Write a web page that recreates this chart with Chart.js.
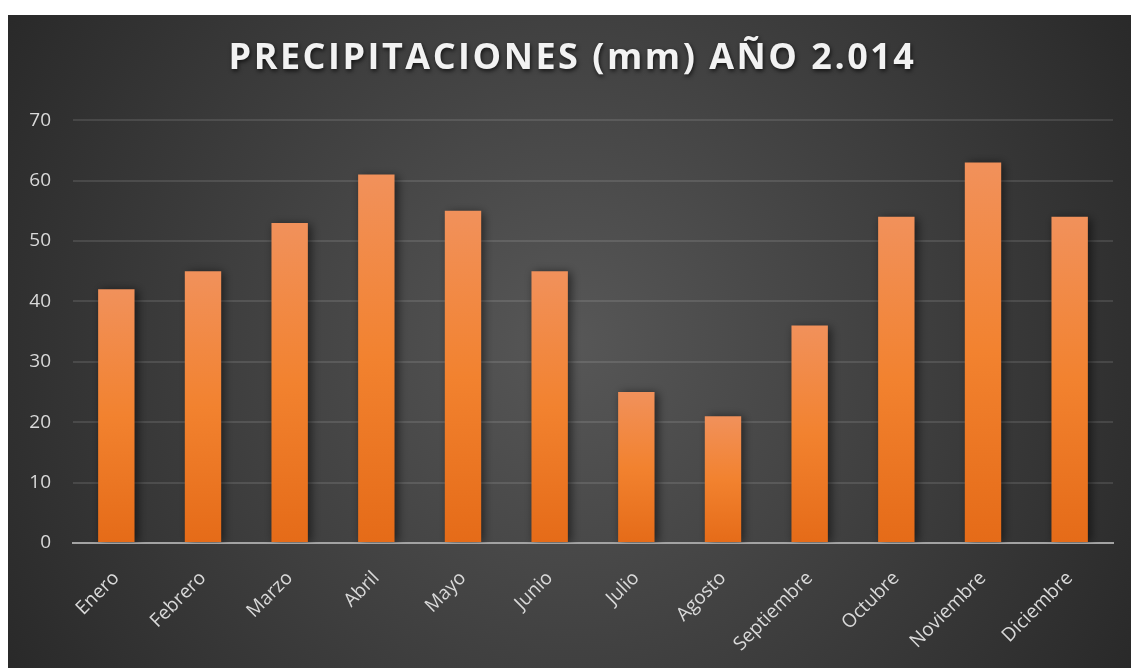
<!DOCTYPE html>
<html>
<head>
<meta charset="utf-8">
<script src="https://cdn.jsdelivr.net/npm/chart.js@4.4.1/dist/chart.umd.min.js"></script>
<style>
    body { margin: 0; background: #ffffff; }
    #wrap { position: absolute; left: 8px; top: 15px; width: 1123px; height: 653px; }
</style>
</head>
<body>
<div id="wrap"><canvas id="rainChart"></canvas></div>
<script>
const months = ['Enero', 'Febrero', 'Marzo', 'Abril', 'Mayo', 'Junio', 'Julio', 'Agosto', 'Septiembre', 'Octubre', 'Noviembre', 'Diciembre'];
const rainfall = [42, 45, 53, 61, 55, 45, 25, 21, 36, 54, 63, 54];
const yTicks = [0, 10, 20, 30, 40, 50, 60, 70];
const chartTitle = 'PRECIPITACIONES (mm) AÑO 2.014';

// dark radial background like the excel theme
const bgPlugin = {
    id: 'bg',
    beforeDraw(chart) {
        const ctx = chart.ctx;
        const w = chart.width, h = chart.height;
        const g = ctx.createRadialGradient(w * 0.5, h * 0.5, 0, w * 0.5, h * 0.5, w * 0.62);
        g.addColorStop(0, '#575757');
        g.addColorStop(1, '#262626');
        ctx.save();
        ctx.fillStyle = g;
        ctx.fillRect(0, 0, w, h);
        ctx.restore();
    }
};

// soft shadow behind the bars
const shadowPlugin = {
    id: 'barShadow',
    beforeDatasetsDraw(chart) {
        const ctx = chart.ctx;
        ctx.save();
        ctx.shadowColor = 'rgba(0,0,0,0.55)';
        ctx.shadowBlur = 9;
        ctx.shadowOffsetX = 3;
        ctx.shadowOffsetY = 1;
    },
    afterDatasetsDraw(chart) {
        chart.ctx.restore();
    }
};

// shadow + letter spacing on the title text
const titleShadow = {
    id: 'titleShadow',
    afterLayout(chart) {
        const tb = chart.titleBlock;
        if (!tb || tb._wrapped) return;
        const orig = tb.draw.bind(tb);
        tb.draw = function () {
            const ctx = chart.ctx;
            ctx.save();
            ctx.translate(12, 0);
            ctx.letterSpacing = '2.5px';
            ctx.shadowColor = 'rgba(0,0,0,0.7)';
            ctx.shadowBlur = 4;
            ctx.shadowOffsetX = 1;
            ctx.shadowOffsetY = 2;
            orig();
            ctx.restore();
        };
        tb._wrapped = true;
    }
};

function barFill(context) {
    const chart = context.chart;
    if (!chart.chartArea) return '#ee7a30';
    const y = chart.scales.y;
    const top = y.getPixelForValue(rainfall[context.dataIndex]);
    const bottom = y.getPixelForValue(0);
    const g = chart.ctx.createLinearGradient(0, top, 0, bottom);
    g.addColorStop(0, '#f1915b');
    g.addColorStop(0.5, '#f2822f');
    g.addColorStop(1, '#e56b18');
    return g;
}

const ctx = document.getElementById('rainChart');

new Chart(ctx, {
    type: 'bar',
    data: {
        labels: months,
        datasets: [{
            label: 'Precipitaciones',
            data: rainfall,
            backgroundColor: barFill,
            borderWidth: 0,
            categoryPercentage: 1,
            barPercentage: 0.42
        }]
    },
    options: {
        responsive: true,
        maintainAspectRatio: false,
        animation: false,
        layout: { padding: { left: 0, right: 18, top: 18, bottom: 0 } },
        scales: {
            x: {
                grid: { display: false },
                border: { color: '#a3a3a3', width: 2 },
                ticks: {
                    color: '#d9d9d9',
                    font: { family: 'Open Sans', size: 19 },
                    maxRotation: 45,
                    minRotation: 45,
                    padding: 16
                },
                afterFit(scale) { scale.height = 125; }
            },
            y: {
                min: 0,
                max: 70,
                afterBuildTicks(scale) { scale.ticks = yTicks.map(v => ({ value: v })); },
                grid: { color: 'rgba(255,255,255,0.11)', lineWidth: 2, drawTicks: false },
                border: { display: false },
                ticks: {
                    color: '#d9d9d9',
                    font: { family: 'Open Sans', size: 19 },
                    padding: 22
                },
                afterFit(scale) { scale.width = 65; }
            }
        },
        plugins: {
            legend: { display: false },
            tooltip: { enabled: false },
            title: {
                display: true,
                text: chartTitle,
                color: '#f2f2f2',
                font: { family: 'Open Sans', size: 36, weight: 'bold' },
                padding: { top: 4, bottom: 40 }
            }
        }
    },
    plugins: [bgPlugin, shadowPlugin, titleShadow]
});
</script>
</body>
</html>
